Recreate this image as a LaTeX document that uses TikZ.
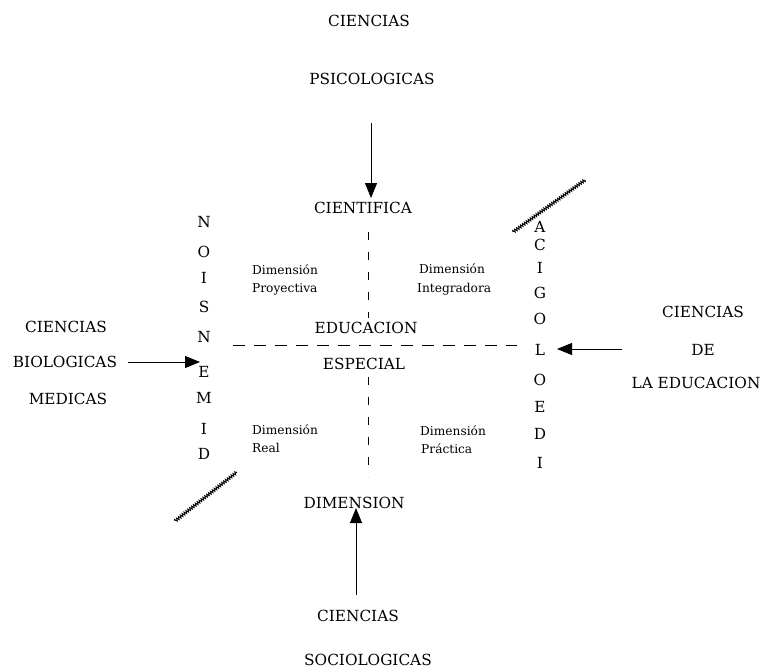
\documentclass[tikz,border=0pt]{standalone}
\usepackage{fontspec}
\setmainfont{DejaVu Serif}
\usetikzlibrary{arrows.meta,decorations.pathmorphing}

\begin{document}
\begin{tikzpicture}[x=1pt,y=-1pt,
  big/.style={font=\fontsize{15.3}{17}\selectfont, anchor=base, inner sep=0pt},
  small/.style={font=\fontsize{12.2}{14}\selectfont, anchor=base west, inner sep=0pt},
  feed/.style={line width=0.9pt, -{Triangle[length=15pt,width=12pt]}},
  axisline/.style={line width=0.8pt, dash pattern=on 12pt off 9pt},
  axisvert/.style={line width=0.8pt, dash pattern=on 8pt off 12pt},
  hatch/.style={line width=0.9pt, decorate,
    decoration={zigzag, amplitude=1.4pt, segment length=2.4pt}}]
\useasboundingbox (0,0) rectangle (767,669);

% feeding sciences
\node[big] (psiA) at (369,27) {CIENCIAS};
\node[big] (psiB) at (372,84) {PSICOLOGICAS};
\node[big] (bioA) at (66,332) {CIENCIAS};
\node[big] (bioB) at (65,367) {BIOLOGICAS};
\node[big] (bioC) at (68,404) {MEDICAS};
\node[big] (eduA) at (703,317) {CIENCIAS};
\node[big] (eduB) at (703,355) {DE};
\node[big] (eduC) at (696,388) {LA EDUCACION};
\node[big] (socA) at (358,621) {CIENCIAS};
\node[big] (socB) at (368,665) {SOCIOLOGICAS};

% central words
\node[big] (cient) at (363,213) {CIENTIFICA};
\node[big] (educ) at (366,333) {EDUCACION};
\node[big] (espec) at (364,369) {ESPECIAL};
\node[big] (dimen) at (354,508) {DIMENSION};

% quadrant labels
\node[small] (proyA) at (252,274) {Dimensión};
\node[small] (proyB) at (252,292) {Proyectiva};
\node[small] (intA) at (419,273) {Dimensión};
\node[small] (intB) at (417,292) {Integradora};
\node[small] (realA) at (252,434) {Dimensión};
\node[small] (realB) at (252,452) {Real};
\node[small] (pracA) at (420,435) {Dimensión};
\node[small] (pracB) at (421,453) {Práctica};

% vertical word, left side
\foreach \ch/\yy [count=\i] in {N/227,O/257,I/283,S/312,N/342,E/377,M/403,I/434,D/459}
  \node[big] (l\i) at (204,\yy) {\ch};

% vertical word, right side
\foreach \ch/\yy [count=\i] in {A/232,C/250,I/273,G/298,O/324,L/355,O/385,E/412,D/439,I/468}
  \node[big] (r\i) at (540,\yy) {\ch};

% axes
\coordinate (hW) at (233,345);
\coordinate (hE) at (517,345);
\coordinate (vN1) at (368,232);
\coordinate (vN2) at (368,318);
\coordinate (vS1) at (368,377);
\coordinate (vS2) at (368,477);
\draw[axisline] (hW) -- (hE);
\draw[axisvert] (vN1) -- (vN2);
\draw[axisvert] (vS1) -- (vS2);

% arrows
\coordinate (psiTail) at (371,123);
\coordinate (psiTip) at (371,198);
\coordinate (bioTail) at (128,362);
\coordinate (bioTip) at (200,362);
\coordinate (eduTail) at (622,349);
\coordinate (eduTip) at (557,349);
\coordinate (socTail) at (356,595);
\coordinate (socTip) at (356,508);
\draw[feed] (psiTail) -- (psiTip);
\draw[feed] (bioTail) -- (bioTip);
\draw[feed] (eduTail) -- (eduTip);
\draw[feed] (socTail) -- (socTip);

% hatched diagonal strokes
\coordinate (hatchNE1) at (513,232);
\coordinate (hatchNE2) at (585,180);
\coordinate (hatchSW1) at (175,521);
\coordinate (hatchSW2) at (237,472);
\draw[hatch] (hatchNE1) -- (hatchNE2);
\draw[hatch] (hatchSW1) -- (hatchSW2);
\end{tikzpicture}
\end{document}
